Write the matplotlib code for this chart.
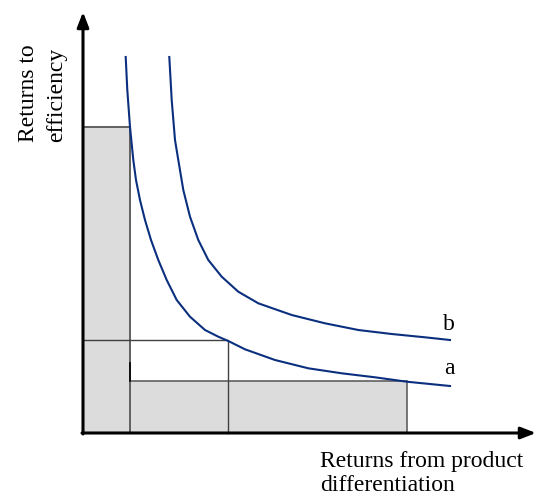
import matplotlib
matplotlib.use('Agg')
import matplotlib.pyplot as plt

# curve a (x = returns from differentiation, y = returns to efficiency)
a_x = [42.7, 44.3, 47, 50.3, 53, 57, 62, 68, 75.3, 83.7, 93.7, 107, 122, 135.3, 145.3,
       162, 192, 225.3, 258.7, 292, 323.7, 367]
a_y = [376, 343, 306, 273, 253, 233, 213, 193, 173, 153, 133, 116.3, 103, 96.3, 92,
       83.7, 73, 64.7, 59.7, 55.7, 51.3, 47]

# curve b
b_x = [86.3, 88.7, 92, 95.3, 100.3, 107, 115.3, 125.3, 138.7, 155.3, 175.3, 208.7,
       242, 275.3, 308.7, 342, 367]
b_y = [376, 333, 293, 273, 243, 216.3, 193, 173, 156.3, 141.3, 129.7, 118,
       109.7, 103, 99, 95.7, 93]

# shaded boxes (width, height from origin)
box_eff = (47, 306)
box_diff = (324, 52)
# middle point on curve a
mid = (145, 93)

fig = plt.figure(figsize=(5.43, 4.97), dpi=100)
ax = fig.add_axes([0, 0, 1, 1])
ax.set_xlim(-83, 460)
ax.set_ylim(-64, 433)
ax.axis('off')

gray = '#dcdcdc'
edge = '#606060'
ax.add_patch(plt.Rectangle((0, 0), box_diff[0], box_diff[1], facecolor=gray, edgecolor=edge, lw=1.2, zorder=1))
ax.add_patch(plt.Rectangle((0, 0), box_eff[0], box_eff[1], facecolor=gray, edgecolor=edge, lw=1.2, zorder=1))
# outline of the tall box drawn over the wide one
ax.plot([0, box_eff[0], box_eff[0]], [box_eff[1], box_eff[1], 0], color=edge, lw=1.2, zorder=2)
ax.plot([box_eff[0], box_eff[0]], [box_diff[1], box_diff[1] + 18], color='black', lw=1.2, zorder=2)

# lines to the middle point
ax.plot([0, mid[0], mid[0]], [mid[1], mid[1], 0], color='#404040', lw=1.0, zorder=2)

blue = '#0b2f7f'
ax.plot(a_x, a_y, color=blue, lw=1.5, zorder=3, solid_joinstyle='round')
ax.plot(b_x, b_y, color=blue, lw=1.5, zorder=3, solid_joinstyle='round')

# axes with arrows
ax.annotate('', xy=(453, 0), xytext=(-1, 0),
            arrowprops=dict(arrowstyle='-|>,head_length=0.9,head_width=0.35', color='black', lw=2.2, shrinkA=0, shrinkB=0))
ax.annotate('', xy=(0, 421), xytext=(0, -1),
            arrowprops=dict(arrowstyle='-|>,head_length=0.9,head_width=0.35', color='black', lw=2.2, shrinkA=0, shrinkB=0))

font = 'Liberation Serif'
ax.text(a_x[-1] - 1, 64, 'a', fontsize=17, family=font, ha='center', va='center')
ax.text(b_x[-1] - 1, 108, 'b', fontsize=17, family=font, ha='center', va='center')

ax.text(237, -18, 'Returns from product\ndifferentiation', fontsize=17, family=font,
        ha='left', va='top', linespacing=1.2)
ax.text(-40, 291, 'Returns to\nefficiency', fontsize=17, family=font, rotation=90,
        ha='center', va='bottom', multialignment='left', linespacing=1.45)

fig.savefig('out.png', dpi=100)
